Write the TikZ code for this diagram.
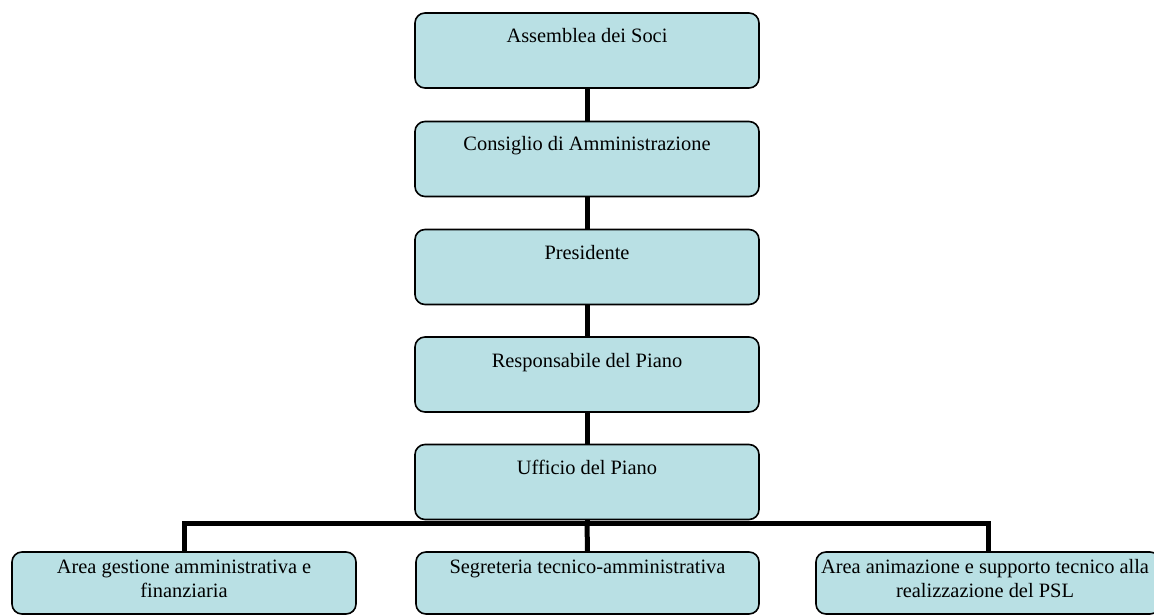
\documentclass[tikz,border=0pt]{standalone}
\usepackage{fontspec}
\setmainfont{Liberation Serif}
\usetikzlibrary{backgrounds}
\definecolor{boxfill}{RGB}{185,224,228}
\begin{document}
\begin{tikzpicture}[x=1pt,y=-1pt,
  box/.style={draw=black,line width=1.6pt,fill=boxfill,rounded corners=10pt,inner sep=0pt},
  txt/.style={anchor=base,inner sep=0pt,font=\fontsize{20.4}{24}\selectfont,align=center},
  conn/.style={line width=5pt,draw=black}]
\useasboundingbox (0,0) rectangle (1154,615);
% top column boxes
\node[box,minimum width=344pt,minimum height=75pt] (b1) at (587,50.5) {};
\node[box,minimum width=344pt,minimum height=75pt] (b2) at (587,159) {};
\node[box,minimum width=344pt,minimum height=75pt] (b3) at (587,267) {};
\node[box,minimum width=344pt,minimum height=75pt] (b4) at (587,374.5) {};
\node[box,minimum width=344pt,minimum height=75pt] (b5) at (587,482) {};
% bottom boxes
\node[box,minimum width=344pt,minimum height=62pt] (b6) at (184,583) {};
\node[box,minimum width=343pt,minimum height=62pt] (b7) at (587.5,583) {};
\node[box,minimum width=344pt,minimum height=62pt] (b8) at (988,583) {};
% texts
\node[txt] (t1) at (587,43) {Assemblea dei Soci};
\node[txt] (t2) at (587,151) {Consiglio di Amministrazione};
\node[txt] (t3) at (587,259) {Presidente};
\node[txt] (t4) at (587,367) {Responsabile del Piano};
\node[txt] (t5) at (587,474) {Ufficio del Piano};
\node[txt] (t6) at (184,597) {Area gestione amministrativa e\\finanziaria};
\node[txt] (t7) at (587.5,573) {Segreteria tecnico-amministrativa};
\node[txt] (t8) at (985,597) {Area animazione e supporto tecnico alla\\realizzazione del PSL};
% connectors
\coordinate (busL) at (184,523.5);
\coordinate (busM) at (587,523.5);
\coordinate (busR) at (988,523.5);
\begin{pgfonlayer}{background}
\draw[conn] (b1.south) -- (b2.north);
\draw[conn] (b2.south) -- (b3.north);
\draw[conn] (b3.south) -- (b4.north);
\draw[conn] (b4.south) -- (b5.north);
\draw[conn] (b5.south) -- (busM);
\draw[conn] (b6.north) -- (busL) -- (busR) -- (b8.north);
\draw[conn] (busM) -- (b7.north);
\end{pgfonlayer}
\end{tikzpicture}
\end{document}
